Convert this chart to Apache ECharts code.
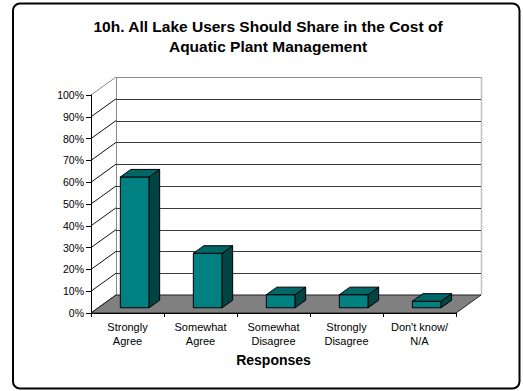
<!DOCTYPE html>
<html>
<head>
<meta charset="utf-8">
<script src="https://cdn.jsdelivr.net/npm/echarts@6/dist/echarts.min.js"></script>
<style>
  html, body { margin: 0; padding: 0; background: #ffffff; }
  #chart { width: 523px; height: 391px; }
</style>
</head>
<body>
<div id="chart"></div>
<script>
// Survey question 10h: share of responses per answer (percent)
const titleLines = ['10h. All Lake Users Should Share in the Cost of', 'Aquatic Plant Management'];
const categories = ['Strongly\nAgree', 'Somewhat\nAgree', 'Somewhat\nDisagree', 'Strongly\nDisagree', "Don't know/\nN/A"];
const shares = [60, 25, 6, 6, 3];
const percentTicks = [0, 10, 20, 30, 40, 50, 60, 70, 80, 90, 100];
const axisTitle = 'Responses';

// pseudo-3D look: offset from the front plane to the back wall
const DEPTH_X = 25, DEPTH_Y = -18;
// bars sit between these fractions of the floor depth
const BAR_FRONT = 0.29, BAR_BACK = 0.71;
const BAR_WIDTH = 0.395; // fraction of the category band

const FONT = 'Liberation Sans, Arial, Helvetica, sans-serif';
const px = v => Math.round(v) + 0.5;

const chart = echarts.init(document.getElementById('chart'), null, { renderer: 'svg' });

// back wall gridlines and side wall diagonals, one item per tick
function renderWalls(params, api) {
  const cs = params.coordSys;
  const v = api.value(1);
  const y = api.coord([0, v])[1];
  const left = cs.x, right = cs.x + cs.width;
  const children = [];
  const isTop = v === percentTicks[percentTicks.length - 1];
  // horizontal line on the back wall
  children.push({
    type: 'line',
    shape: { x1: left + DEPTH_X, y1: px(y + DEPTH_Y), x2: right + DEPTH_X, y2: px(y + DEPTH_Y) },
    style: { stroke: isTop ? '#8a8a8a' : '#3a3a3a', lineWidth: 1 }
  });
  // diagonal on the left side wall
  children.push({
    type: 'line',
    shape: { x1: left, y1: y, x2: left + DEPTH_X, y2: y + DEPTH_Y },
    style: { stroke: isTop ? '#8a8a8a' : '#111111', lineWidth: 1 }
  });
  if (v === 0) {
    const bottom = y;
    const top = api.coord([0, percentTicks[percentTicks.length - 1]])[1];
    // wall edges
    children.push({
      type: 'line',
      shape: { x1: px(left + DEPTH_X), y1: top + DEPTH_Y, x2: px(left + DEPTH_X), y2: bottom + DEPTH_Y },
      style: { stroke: '#8a8a8a', lineWidth: 1 }
    });
    children.push({
      type: 'line',
      shape: { x1: px(right + DEPTH_X), y1: top + DEPTH_Y, x2: px(right + DEPTH_X), y2: bottom + DEPTH_Y },
      style: { stroke: '#c0c0c0', lineWidth: 1.5 }
    });
  }
  return { type: 'group', children };
}

// grey floor under the bars
function renderFloor(params, api) {
  const cs = params.coordSys;
  const y = api.coord([0, 0])[1];
  const left = cs.x, right = cs.x + cs.width;
  return {
    type: 'polygon',
    shape: { points: [[left, y], [right, y], [right + DEPTH_X, y + DEPTH_Y], [left + DEPTH_X, y + DEPTH_Y]] },
    style: { fill: '#808080', stroke: '#202020', lineWidth: 1 }
  };
}

// one box per answer: front face, right side and top
function renderBar(params, api) {
  const i = api.value(0);
  const v = api.value(1);
  const base = api.coord([i, 0]);
  const top = api.coord([i, v]);
  const band = api.size([1, 0])[0];
  const w = band * BAR_WIDTH;
  const fx = DEPTH_X * BAR_FRONT, fy = DEPTH_Y * BAR_FRONT;
  const dx = DEPTH_X * (BAR_BACK - BAR_FRONT), dy = DEPTH_Y * (BAR_BACK - BAR_FRONT);
  const x0 = base[0] - w / 2 + fx, x1 = x0 + w;
  const yb = base[1] + fy, yt = top[1] + fy;
  const line = { stroke: '#000000', lineWidth: 1, lineJoin: 'round' };
  return {
    type: 'group',
    children: [
      { type: 'polygon', shape: { points: [[x0, yt], [x1, yt], [x1, yb], [x0, yb]] },
        style: Object.assign({ fill: '#008080' }, line) },
      { type: 'polygon', shape: { points: [[x1, yt], [x1 + dx, yt + dy], [x1 + dx, yb + dy], [x1, yb]] },
        style: Object.assign({ fill: '#004444' }, line) },
      { type: 'polygon', shape: { points: [[x0, yt], [x0 + dx, yt + dy], [x1 + dx, yt + dy], [x1, yt]] },
        style: Object.assign({ fill: '#006666' }, line) }
    ]
  };
}

chart.setOption({
  backgroundColor: '#ffffff',
  animation: false,
  textStyle: { fontFamily: FONT, color: '#000000' },
  graphic: [
    {
      type: 'rect',
      shape: { x: 13, y: 3.5, width: 506.5, height: 385, r: 7 },
      style: { fill: 'none', stroke: '#000000', lineWidth: 2 },
      silent: true
    },
    {
      type: 'text',
      x: 268, y: 16,
      style: {
        text: titleLines.join('\n'),
        textAlign: 'center',
        fill: '#000000',
        font: 'bold 15.5px ' + FONT,
        lineHeight: 20
      }
    }
  ],
  grid: { left: 91, top: 95, width: 365, height: 218, containLabel: false },
  xAxis: {
    type: 'category',
    data: categories,
    boundaryGap: true,
    z: 10,
    axisLine: { show: true, lineStyle: { color: '#000000', width: 1 } },
    axisTick: { show: true, alignWithLabel: false, length: 4, lineStyle: { color: '#000000' } },
    axisLabel: { color: '#000000', fontSize: 11, lineHeight: 14, margin: 7, fontFamily: FONT, interval: 0 },
    name: axisTitle,
    nameLocation: 'middle',
    nameGap: 40,
    nameTextStyle: { color: '#000000', fontSize: 14, fontWeight: 'bold', fontFamily: FONT }
  },
  yAxis: {
    type: 'value',
    min: 0, max: 100, interval: 10,
    z: 10,
    axisLine: { show: true, lineStyle: { color: '#000000', width: 1 } },
    axisTick: { show: true, length: 5, lineStyle: { color: '#000000' } },
    axisLabel: { formatter: '{value}%', color: '#000000', fontSize: 10.5, margin: 7, fontFamily: FONT },
    splitLine: { show: false }
  },
  series: [
    {
      type: 'custom', name: 'walls', z: 1, silent: true,
      renderItem: renderWalls,
      encode: { x: 0, y: 1 },
      data: percentTicks.map(v => [0, v])
    },
    {
      type: 'custom', name: 'floor', z: 2, silent: true,
      renderItem: renderFloor,
      encode: { x: 0, y: 1 },
      data: [[0, 0]]
    },
    {
      type: 'custom', name: 'share', z: 3,
      renderItem: renderBar,
      encode: { x: 0, y: 1 },
      data: shares.map((v, i) => [i, v])
    }
  ]
});
</script>
</body>
</html>
